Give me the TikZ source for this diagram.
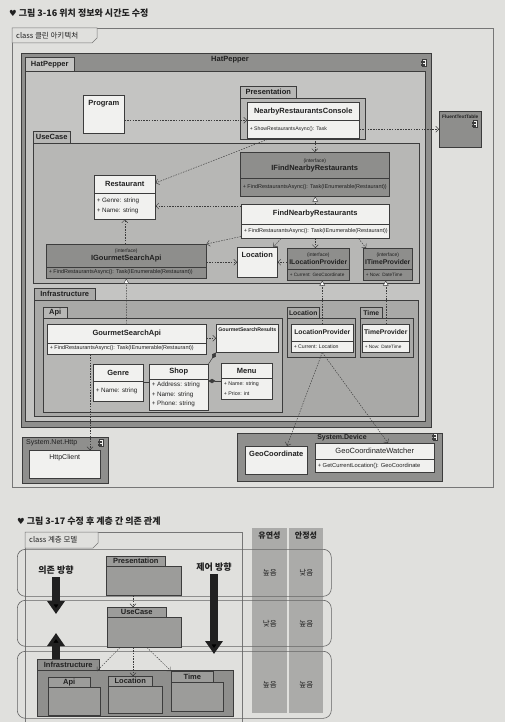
\documentclass[tikz,border=0pt]{standalone}
\usepackage{fontspec}
\setmainfont{Liberation Sans}
\newfontfamily\krfont{Noto Sans CJK KR}
\newfontfamily\symfont{DejaVu Sans}
\usepackage{tikz}
\usetikzlibrary{arrows.meta,calc,positioning,shapes.multipart}
\definecolor{pagebg}{HTML}{E0E0DD}
\definecolor{edge}{HTML}{3C3C3C}
\definecolor{ink}{HTML}{202020}
\definecolor{compfill}{HTML}{8F8F8D}
\definecolor{pkglight}{HTML}{C4C4C2}
\definecolor{pkgmid}{HTML}{B7B7B5}
\definecolor{pkgdark}{HTML}{A9A9A7}
\definecolor{ifacefill}{HTML}{8E8E8C}
\definecolor{clsfill}{HTML}{F1F1EF}
\definecolor{layerfill}{HTML}{9C9C9A}
\definecolor{colfill}{HTML}{9A9A98}

% class compartments: width, height, text
\newcommand{\ttl}[3]{\parbox[c][#2pt][c]{#1pt}{\centering\bfseries\fontsize{7.5}{8.5}\selectfont #3}}
\newcommand{\mbr}[4][5.5]{\parbox[c][#3pt][c]{#2pt}{\raggedright\leftskip=2.5pt\fontsize{#1}{9.5}\selectfont #4}}
\newcommand{\tbox}[4][7.5]{\parbox[c][#3pt][t]{#2pt}{\centering\bfseries\fontsize{#1}{#1}\selectfont\rule{0pt}{\dimexpr 1em+2.5pt\relax}#4}}
\newcommand{\ifc}{{\mdseries\fontsize{5}{6}\selectfont(interface)}\par}

\tikzstyle{cls} = [rectangle split, rectangle split parts=2, draw=edge, fill=clsfill, line width=0.5pt, inner sep=0pt, anchor=north west, text=ink]
\tikzstyle{iface} = [cls, fill=ifacefill]
\tikzstyle{clsbox} = [rectangle, draw=edge, fill=clsfill, line width=0.5pt, inner sep=0pt, anchor=north west, text=ink]
\tikzstyle{pkgtab} = [rectangle, draw=edge, line width=0.5pt, inner sep=0pt, anchor=north west, text=ink, font=\bfseries\fontsize{7.5}{8}\selectfont]
\tikzstyle{pkgbody} = [rectangle, draw=edge, line width=0.5pt, inner sep=0pt, anchor=north west]
\tikzstyle{dep} = [draw=edge, line width=0.45pt, dash pattern=on 1.5pt off 1.2pt, -{Straight Barb[length=3pt,width=6pt]}]
\tikzstyle{realize} = [draw=edge, line width=0.45pt, dash pattern=on 1.5pt off 1.2pt, -{Triangle[open,fill=white,length=5pt,width=5.5pt]}]
\tikzstyle{owns} = [draw=edge, line width=0.5pt, {Diamond[length=7pt,width=4.5pt]}-]
\tikzstyle{assoc} = [draw=edge, line width=0.5pt]
\tikzstyle{bigarrow} = [draw=ink, line width=8pt, -{Triangle[length=13pt,width=17pt]}]
\tikzstyle{lane} = [draw=edge!80, line width=0.6pt, rounded corners=8pt, inner sep=0pt, anchor=north west]
\tikzstyle{rating} = [font=\krfont\fontsize{7.5}{8}\selectfont, text=ink, inner sep=0pt]
\tikzstyle{caption} = [anchor=west, inner sep=0pt, text=ink, font=\krfont\bfseries\fontsize{9}{10}\selectfont]
\tikzset{
  wh/.style 2 args={minimum width=#1pt, minimum height=#2pt},
  compicon/.pic={
    \draw[edge, fill=clsfill, line width=0.4pt] (-1.5,-3.5) rectangle (2.5,3.5);
    \draw[edge, fill=clsfill, line width=0.4pt] (-3,-2.2) rectangle (0,-0.8);
    \draw[edge, fill=clsfill, line width=0.4pt] (-3,0.8) rectangle (0,2.2);
  }
}

\begin{document}
\begin{tikzpicture}[x=1pt, y=-1pt]
  \useasboundingbox[fill=pagebg] (0,0) rectangle (505,722);
  % figure 3-16
  \node[caption] (CaptionOne) at (9,13) {{\symfont\fontsize{8.5}{9}\selectfont ♥} 그림 3-16 위치 정보와 시간도 수정};
  \node[pkgbody, wh={481}{459}, draw=edge!70] (CleanFrame) at (12,28) {};
  \draw[draw=edge!70, line width=0.5pt, fill=pagebg] (CleanFrame.north west) -- ++(85,0) -- ++(0,10) -- ++(-5,5) -- ++(-80,0) -- cycle;
  \node[anchor=west, inner sep=0pt, text=ink, font=\krfont\fontsize{7.5}{8}\selectfont] (CleanFrameName) at (16,36) {class 클린 아키텍처};
  %
  \node[pkgbody, wh={410}{374}, fill=compfill] (HatPepperComp) at (21,53) {};
  \node[inner sep=0pt, text=ink, font=\bfseries\fontsize{7.5}{8}\selectfont] (HatPepperName) at (230,60) {HatPepper};
  \node[pkgbody, wh={400}{350}, fill=pkglight] (HatPepperBody) at (25,71) {};
  \node[pkgtab, wh={49}{14}, fill=pkglight] (HatPepperTab) at (25,57) {HatPepper};
  \pic at (424,63) {compicon};
  \node[clsbox] (Program) at (83,95) {\tbox{41}{38}{Program}};
  %
  \node[pkgbody, wh={125}{41}, fill=pkgmid] (PresentationBody) at (240,98) {};
  \node[pkgtab, wh={56}{12}, fill=pkgmid] (PresentationTab) at (240,86) {Presentation};
  \node[cls] (NearbyConsole) at (247,102) {\ttl{112}{18}{NearbyRestaurantsConsole}\nodepart{two}\mbr[5.2]{112}{17}{+ ShowRestaurantsAsync(): Task}};
  \node[clsbox, fill=ifacefill] (FluentTable) at (439,111) {\tbox[4.8]{42}{36}{FluentTextTable}};
  \pic at (475,124) {compicon};
  %
  \node[pkgbody, wh={386}{140}, fill=pkgmid] (UseCaseBody) at (33,143) {};
  \node[pkgtab, wh={37}{12}, fill=pkgmid] (UseCaseTab) at (33,131) {UseCase};
  \node[iface] (IFindNearby) at (240,152) {\ttl{149}{26}{\ifc IFindNearbyRestaurants}\nodepart{two}\mbr{149}{17}{+ FindRestaurantsAsync(): Task(IEnumerable(Restaurant))}};
  \node[cls] (FindNearby) at (241,204) {\ttl{148}{19}{FindNearbyRestaurants}\nodepart{two}\mbr{148}{14}{+ FindRestaurantsAsync(): Task(IEnumerable(Restaurant))}};
  \node[cls] (Restaurant) at (94,175) {\ttl{61}{17}{Restaurant}\nodepart{two}\mbr[6.3]{61}{26}{+ Genre: string\\+ Name: string}};
  \node[iface] (IGourmetApi) at (46,244) {\ttl{160}{22}{\ifc IGourmetSearchApi}\nodepart{two}\mbr{160}{11}{+ FindRestaurantsAsync(): Task(IEnumerable(Restaurant))}};
  \node[clsbox] (Location) at (237,247) {\tbox{40}{30}{Location}};
  \node[iface] (ILocProvider) at (287,248) {\ttl{62}{20}{\ifc{\fontsize{6.8}{7.5}\selectfont ILocationProvider}}\nodepart{two}\mbr[4.7]{62}{11}{+ Current: GeoCoordinate}};
  \node[iface] (ITimeProvider) at (363,248) {\ttl{49}{20}{\ifc{\fontsize{6.8}{7.5}\selectfont ITimeProvider}}\nodepart{two}\mbr[4.7]{49}{11}{+ Now: DateTime}};
  %
  \node[pkgbody, wh={384}{116}, fill=pkgdark] (InfraBody) at (34,300) {};
  \node[pkgtab, wh={61}{12}, fill=pkgdark] (InfraTab) at (34,288) {Infrastructure};
  \node[pkgbody, wh={239}{94}, fill=pkgmid] (ApiBody) at (43,318) {};
  \node[pkgtab, wh={24}{11}, fill=pkgmid] (ApiTab) at (43,307) {Api};
  \node[cls] (GourmetApi) at (47,324) {\ttl{159}{18}{GourmetSearchApi}\nodepart{two}\mbr{159}{11}{+ FindRestaurantsAsync(): Task(IEnumerable(Restaurant))}};
  \node[clsbox] (GourmetResults) at (216,324) {\tbox[5.2]{62}{28}{GourmetSearchResults}};
  \node[cls] (Genre) at (93,364) {\ttl{50}{16}{Genre}\nodepart{two}\mbr[6.3]{50}{20}{+ Name: string}};
  \node[cls] (Shop) at (149,364) {\ttl{59}{14}{Shop}\nodepart{two}\mbr[6.3]{59}{31}{+ Address: string\\+ Name: string\\+ Phone: string}};
  \node[cls] (Menu) at (221,363) {\ttl{51}{14}{Menu}\nodepart{two}\mbr[5.3]{51}{21}{+ Name: string\\+ Price: int}};
  \node[pkgbody, wh={68}{39}, fill=pkgdark] (LocPkgBody) at (287,318) {};
  \node[pkgtab, wh={32}{11}, fill=pkgdark, font=\bfseries\fontsize{6.8}{7}\selectfont] (LocPkgTab) at (287,307) {Location};
  \node[cls] (LocProvider) at (291,324) {\ttl{62}{16}{\fontsize{6.8}{7.5}\selectfont LocationProvider}\nodepart{two}\mbr[5.2]{62}{11}{+ Current: Location}};
  \node[pkgbody, wh={53}{39}, fill=pkgdark] (TimePkgBody) at (360,318) {};
  \node[pkgtab, wh={22}{11}, fill=pkgdark, font=\bfseries\fontsize{6.8}{7}\selectfont] (TimePkgTab) at (360,307) {Time};
  \node[cls] (TimeProvider) at (362,324) {\ttl{47}{16}{\fontsize{6.8}{7.5}\selectfont TimeProvider}\nodepart{two}\mbr[4.7]{47}{11}{+ Now: DateTime}};
  %
  \node[pkgbody, wh={86}{46}, fill=compfill] (NetHttp) at (22,437) {};
  \node[anchor=west, inner sep=0pt, text=ink, font=\fontsize{7}{8}\selectfont] (NetHttpName) at (26,443) {System.Net.Http};
  \pic at (101,443) {compicon};
  \node[clsbox] (HttpClient) at (29,450) {\tbox[7]{71}{28}{\mdseries HttpClient}};
  \node[pkgbody, wh={205}{48}, fill=compfill] (SysDevice) at (237,433) {};
  \node[inner sep=0pt, text=ink, font=\bfseries\fontsize{7}{8}\selectfont] (SysDeviceName) at (342,438) {System.Device};
  \pic at (435,437) {compicon};
  \node[clsbox] (GeoCoord) at (245,446) {\tbox{62}{28}{GeoCoordinate}};
  \node[cls] (GeoWatcher) at (315,443) {\ttl{119}{15}{\mdseries GeoCoordinateWatcher}\nodepart{two}\mbr[5.8]{119}{13}{+ GetCurrentLocation(): GeoCoordinate}};
  %
  \draw[dep] (Program.east |- NearbyConsole.west) -- (NearbyConsole.west);
  \draw[dep] (NearbyConsole.east |- FluentTable.west) -- (FluentTable.west);
  \draw[dep] ($(NearbyConsole.south west)+(23,0)$) -- ($(Restaurant.north east)+(0,8)$);
  \draw[dep] (NearbyConsole.south -| IFindNearby.north) -- (IFindNearby.north);
  \draw[realize] (FindNearby.north) -- (FindNearby.north |- IFindNearby.south);
  \path ($(FindNearby.north west)+(0,2)$) coordinate (FindLeft);
  \draw[dep] (FindLeft) -- (FindLeft -| Restaurant.east);
  \draw[dep] ($(FindNearby.south west)+(0,-2)$) -- (IGourmetApi.north east);
  \draw[dep] ($(FindNearby.south west)+(40,0)$) -- ($(Location.north east)+(-4,0)$);
  \draw[dep] (FindNearby.south) -- (FindNearby.south |- ILocProvider.north);
  \draw[dep] ($(FindNearby.south east)+(-31,0)$) -- ($(ITimeProvider.north west)+(3,0)$);
  \draw[dep] (IGourmetApi.east |- Location.west) -- (Location.west);
  \draw[dep] (ILocProvider.west |- Location.east) -- (Location.east);
  \draw[dep] (IGourmetApi.north -| Restaurant.south) -- (Restaurant.south);
  \draw[realize] (GourmetApi.north) -- (IGourmetApi.south);
  \draw[dep] (GourmetApi.east |- GourmetResults.west) -- (GourmetResults.west);
  \path ($(GourmetApi.south west)+(43,0)$) coordinate (ApiDown);
  \draw[dep] (ApiDown) -- (ApiDown |- HttpClient.north);
  \draw[owns] (GourmetResults.south west) -- (Shop.north east);
  \draw[assoc] ($(Genre.north east)+(0,18)$) -- ($(Shop.north west)+(0,18)$);
  \draw[owns] ($(Shop.north east)+(0,17)$) -- ($(Menu.north west)+(0,18)$);
  \draw[realize] (LocProvider.north) -- (LocProvider.north |- ILocProvider.south);
  \draw[realize] (TimeProvider.north) -- (TimeProvider.north |- ITimeProvider.south);
  \draw[dep] (LocProvider.south) -- ($(GeoCoord.north west)+(42,0)$);
  \draw[dep] (LocProvider.south) -- ($(GeoWatcher.north west)+(73,0)$);

  % figure 3-17
  \node[caption] (CaptionTwo) at (17,521) {{\symfont\fontsize{8.5}{9}\selectfont ♥} 그림 3-17 수정 후 계층 간 의존 관계};
  \node[pkgbody, wh={217}{194}, draw=edge!70] (LayerFrame) at (25,532) {};
  \draw[draw=edge!70, line width=0.5pt, fill=pagebg] (LayerFrame.north west) -- ++(73,0) -- ++(0,11) -- ++(-5,5) -- ++(-68,0) -- cycle;
  \node[anchor=west, inner sep=0pt, text=ink, font=\krfont\fontsize{7.5}{8}\selectfont] (LayerFrameName) at (29,540) {class 계층 모델};
  \node[pkgbody, wh={35}{185}, draw=none, fill=colfill, fill opacity=0.75] (FlexCol) at (252,528) {};
  \node[pkgbody, wh={34}{185}, draw=none, fill=colfill, fill opacity=0.75] (StableCol) at (289,528) {};
  \node[inner sep=0pt, text=ink, font=\krfont\bfseries\fontsize{8}{9}\selectfont] (FlexHead) at (269.5,536) {유연성};
  \node[inner sep=0pt, text=ink, font=\krfont\bfseries\fontsize{8}{9}\selectfont] (StableHead) at (306,536) {안정성};
  \node[lane, wh={314}{47}] (LaneTop) at (17,549) {};
  \node[lane, wh={314}{46}] (LaneMid) at (17,600) {};
  \node[lane, wh={314}{67}] (LaneLow) at (17,651) {};
  \node[rating] (FlexTop) at (FlexCol.center |- LaneTop.center) {높음};
  \node[rating] (StableTop) at (StableCol.center |- LaneTop.center) {낮음};
  \node[rating] (FlexMid) at (FlexCol.center |- LaneMid.center) {낮음};
  \node[rating] (StableMid) at (StableCol.center |- LaneMid.center) {높음};
  \node[rating] (FlexLow) at (FlexCol.center |- LaneLow.center) {높음};
  \node[rating] (StableLow) at (StableCol.center |- LaneLow.center) {높음};
  %
  \node[pkgbody, wh={75}{29}, fill=layerfill] (LayerPresBody) at (106,566) {};
  \node[pkgtab, wh={59}{10}, fill=layerfill] (LayerPresTab) at (106,556) {Presentation};
  \node[pkgbody, wh={74}{30}, fill=layerfill] (LayerUseBody) at (107,617) {};
  \node[pkgtab, wh={59}{10}, fill=layerfill] (LayerUseTab) at (107,607) {UseCase};
  \node[pkgbody, wh={196}{46}, fill=compfill] (LayerInfraBody) at (37,670) {};
  \node[pkgtab, wh={62}{11}, fill=compfill] (LayerInfraTab) at (37,659) {Infrastructure};
  \node[pkgbody, wh={52}{28}, fill=layerfill] (LayerApiBody) at (48,687) {};
  \node[pkgtab, wh={42}{10}, fill=layerfill] (LayerApiTab) at (48,677) {Api};
  \node[pkgbody, wh={54}{27}, fill=layerfill] (LayerLocBody) at (108,686) {};
  \node[pkgtab, wh={44}{10}, fill=layerfill] (LayerLocTab) at (108,676) {Location};
  \node[pkgbody, wh={52}{29}, fill=layerfill] (LayerTimeBody) at (171,682) {};
  \node[pkgtab, wh={42}{11}, fill=layerfill] (LayerTimeTab) at (171,671) {Time};
  %
  \draw[dep] ($(LayerPresBody.south west)+(27,0)$) -- ($(LayerUseTab.north west)+(26,0)$);
  \draw[dep] ($(LayerUseBody.south west)+(13,0)$) -- ($(LayerInfraBody.north west)+(60,1)$);
  \draw[dep] ($(LayerUseBody.south west)+(26,0)$) -- ($(LayerLocTab.north west)+(25,0)$);
  \draw[dep] ($(LayerUseBody.south west)+(40,0)$) -- (LayerTimeTab.north west);
  %
  \node[inner sep=0pt, text=ink, font=\krfont\bfseries\fontsize{9}{10}\selectfont] (DepLabel) at (56,570) {의존 방향};
  \node[inner sep=0pt, text=ink, font=\krfont\bfseries\fontsize{9}{10}\selectfont] (CtrlLabel) at (214,567) {제어 방향};
  \coordinate (DepFrom) at (56,577);
  \coordinate (DepTo) at (56,614);
  \coordinate (DepUpFrom) at (56,659);
  \coordinate (DepUpTo) at (56,633);
  \coordinate (CtrlFrom) at (214,574);
  \coordinate (CtrlTo) at (214,654);
  \draw[bigarrow] (DepFrom) -- (DepTo);
  \draw[bigarrow] (DepUpFrom) -- (DepUpTo);
  \draw[bigarrow] (CtrlFrom) -- (CtrlTo);
\end{tikzpicture}
\end{document}
